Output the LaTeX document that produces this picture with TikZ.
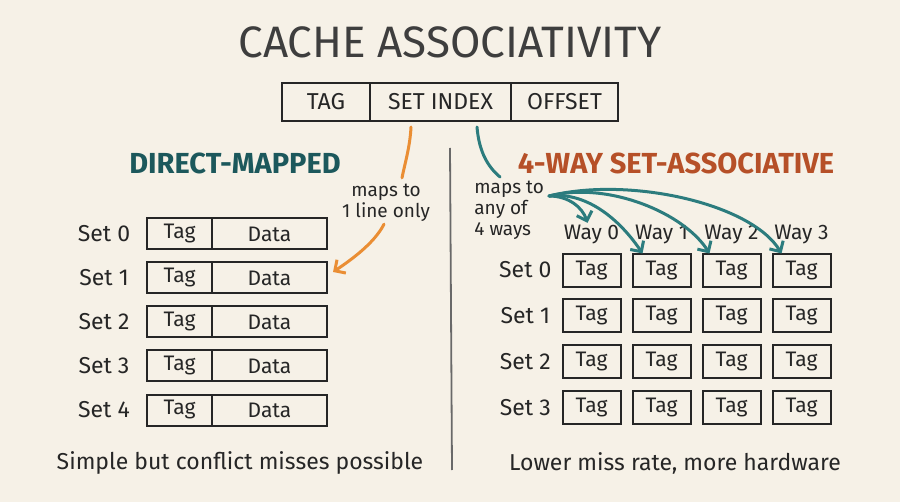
\documentclass[tikz,border=0pt]{standalone}
\usepackage{fontspec}
\setmainfont{Fira Sans}
\usetikzlibrary{positioning,arrows.meta,matrix,calc}

\definecolor{paper}{RGB}{246,241,231}
\definecolor{ink}{RGB}{38,38,38}
\definecolor{titleink}{RGB}{62,62,62}
\definecolor{tealc}{RGB}{44,124,126}
\definecolor{tealh}{RGB}{28,88,92}
\definecolor{orangec}{RGB}{234,142,52}
\definecolor{rusth}{RGB}{182,80,40}
\definecolor{rule}{RGB}{105,105,105}

\tikzset{
  field/.style={draw=ink, line width=1.2pt, minimum height=19pt, inner sep=0pt, outer sep=0pt,
    text=ink, font=\fontsize{11.5}{13}\selectfont},
  cellbox/.style={draw=ink, line width=1pt, minimum height=15.5pt, inner sep=0pt, outer sep=0pt,
    text=ink, font=\fontsize{10.5}{12}\selectfont},
  setlabel/.style={text=ink, inner sep=0pt, font=\fontsize{11.5}{13}\selectfont},
  heading/.style={font=\fontsize{14.5}{16}\selectfont\bfseries},
  note/.style={text=ink, inner sep=1pt, font=\fontsize{9.5}{10.5}\selectfont},
  caption/.style={text=ink, font=\fontsize{11.5}{13}\selectfont},
  maparrow/.style={line width=1.5pt, line cap=round, -{Straight Barb[length=4pt,width=8pt]}},
}

\begin{document}
\begin{tikzpicture}[x=0.5pt, y=-0.5pt]
  \fill[paper] (0,0) rectangle (900,502);
  \useasboundingbox (0,0) rectangle (900,502);

  % title and address fields
  \node[text=titleink, font=\fontsize{22}{24}\selectfont] (title) at (450,42) {CACHE ASSOCIATIVITY};
  \node[field, minimum width=44pt, anchor=west] (ftag) at (282,102) {TAG};
  \node[field, minimum width=70.5pt, right=0pt of ftag] (fidx) {SET INDEX};
  \node[field, minimum width=53.5pt, right=0pt of fidx] (foff) {OFFSET};

  % divider
  \coordinate (rtop) at (450,148);
  \coordinate (rbot) at (452,470);
  \draw[rule, line width=0.9pt] (rtop) -- (rbot);

  % direct-mapped side
  \node[heading, text=tealh] (dmhead) at (235,163) {DIRECT-MAPPED};
  \foreach \i in {0,...,4}{
    \node[setlabel] (dset\i) at (104,{234+44*\i}) {Set \i};
    \node[cellbox, minimum width=32.5pt, anchor=west] (dtag\i) at (147,{234+44*\i}) {Tag};
    \node[cellbox, minimum width=57.5pt, right=0pt of dtag\i] (ddata\i) {Data};
  }
  \node[note, align=center] (maps1) at (386,203) {maps to\\1 line only};
  \draw[orangec, line width=1.5pt, line cap=round] ([xshift=-14.75pt,yshift=-3pt]fidx.south)
    .. controls +(-1,20) and +(3,-15) .. ([xshift=8pt,yshift=2pt]maps1.north);
  \draw[orangec, maparrow] ([xshift=-1pt]maps1.south)
    .. controls +(-10,20) and +(15,-10) .. ([xshift=3pt,yshift=3pt]ddata1.east);
  \node[caption] (dmcap) at (240,463) {Simple but conflict misses possible};

  % set-associative side
  \node[heading, text=rusth] (sahead) at (676,163) {4-WAY SET-ASSOCIATIVE};
  \matrix (g) [matrix of nodes, ampersand replacement=\&, row sep=5.4pt, column sep=5pt,
      nodes={cellbox, minimum width=29pt, minimum height=16.5pt, anchor=center},
      row 1/.style={nodes={draw=none, minimum height=0pt, inner sep=1pt, font=\fontsize{10.5}{12}\selectfont}},
      column 1/.style={nodes={draw=none, minimum width=0pt, font=\fontsize{11.5}{13}\selectfont}},
      matrix anchor=g-2-2.center] at (591.5,270) {
      \& Way 0 \& Way 1 \& Way 2 \& Way 3 \\[-2pt]
    Set 0 \& Tag \& Tag \& Tag \& Tag \\
    Set 1 \& Tag \& Tag \& Tag \& Tag \\
    Set 2 \& Tag \& Tag \& Tag \& Tag \\
    Set 3 \& Tag \& Tag \& Tag \& Tag \\
  };
  \node[note, align=left, anchor=west] (maps4) at (472,210) {maps to\\any of\\4 ways};
  \coordinate (fan) at (549,196);
  \draw[tealc, line width=1.5pt, line cap=round] ([xshift=18.25pt,yshift=-3pt]fidx.south)
    .. controls +(2,25) and +(-12,-10) .. (500,177);
  \draw[tealc, maparrow] (fan) .. controls +(20,0) and +(-5,-15) .. ([xshift=-2pt]g-1-2.north);
  \draw[tealc, maparrow] (fan) .. controls +(40,-5) and +(-20,-30) .. ([xshift=5pt]g-2-3.north west);
  \draw[tealc, maparrow] (fan) .. controls +(60,-15) and +(-25,-40) .. ([xshift=3.5pt]g-2-4.north west);
  \draw[tealc, maparrow] (fan) .. controls +(80,-20) and +(-30,-50) .. ([xshift=4.5pt]g-2-5.north west);
  \node[caption] (sacap) at (675,463) {Lower miss rate, more hardware};
\end{tikzpicture}
\end{document}
